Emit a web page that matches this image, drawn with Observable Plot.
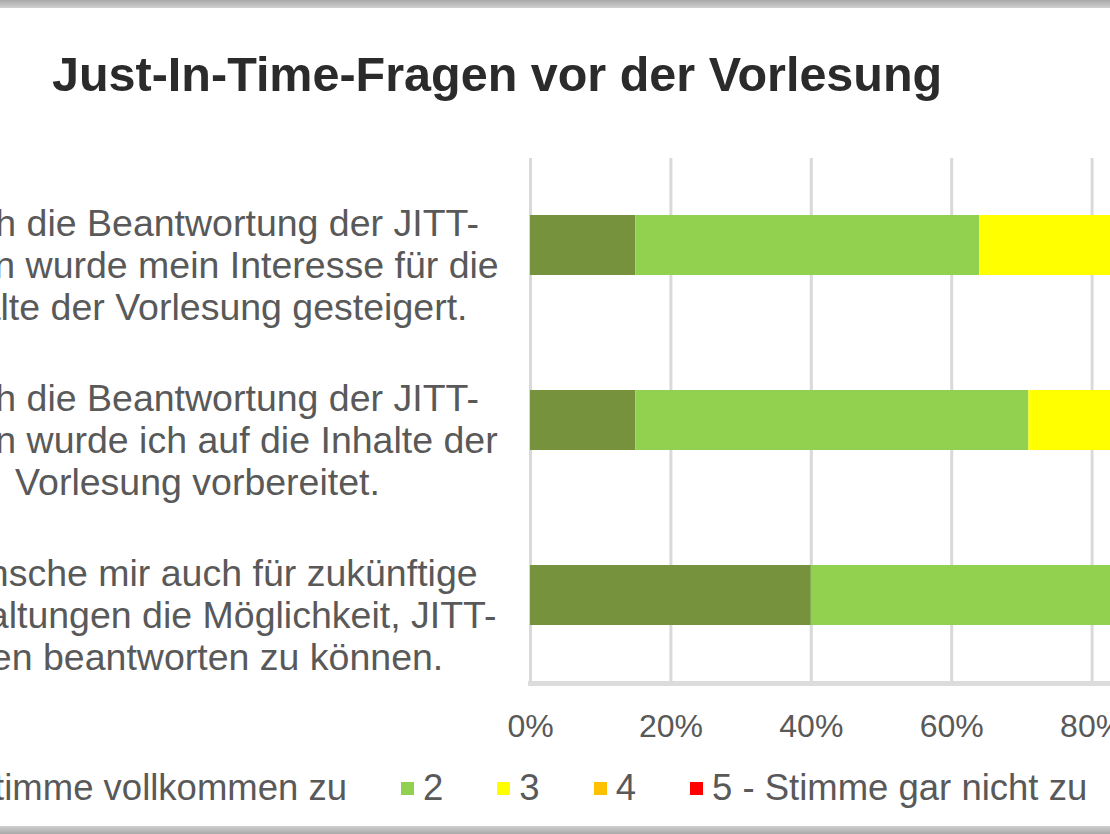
<!DOCTYPE html>
<html>
<head>
<meta charset="utf-8">
<script src="https://cdn.jsdelivr.net/npm/d3@7"></script>
<script src="https://cdn.jsdelivr.net/npm/@observablehq/plot@0.6"></script>
<style>
  html, body { margin: 0; padding: 0; background: #fff; }
  #frame { position: relative; width: 1110px; height: 834px; overflow: hidden; background: #fff; font-family: "Liberation Sans", Arial, sans-serif; }
  .band { position: absolute; left: 0; width: 1110px; height: 8px; }
  #topband { top: 0; background: linear-gradient(#a9a9a9, #d0d0d0); }
  #bottomband { bottom: 0; background: linear-gradient(#d0d0d0, #a9a9a9); }
  #title { position: absolute; left: 52px; top: 50px; font-size: 48.5px; line-height: 1; font-weight: bold; color: #2b2b2b; white-space: nowrap; }
  #chart { position: absolute; left: -400px; top: 147px; width: 1652px; }
  #chart svg { max-width: none !important; }
  #legend { position: absolute; left: -105px; top: 770px; height: 36px; display: flex; align-items: center; gap: 54px; font-size: 36.5px; line-height: 1; color: #595959; white-space: nowrap; }
  .item { display: flex; align-items: center; gap: 9px; }
  .sw { width: 13px; height: 13px; flex: none; }
</style>
</head>
<body>
<div id="frame">
  <div id="topband" class="band"></div>
  <div id="title">Just-In-Time-Fragen vor der Vorlesung</div>
  <div id="chart"></div>
  <div id="legend"></div>
  <div id="bottomband" class="band"></div>
</div>
<script>
// Survey statements (categories)
const questions = [
  "Durch die Beantwortung der JITT-\nFragen wurde mein Interesse für die\nInhalte der Vorlesung gesteigert.",
  "Durch die Beantwortung der JITT-\nFragen wurde ich auf die Inhalte der\nVorlesung vorbereitet.",
  "Ich wünsche mir auch für zukünftige\nVeranstaltungen die Möglichkeit, JITT-\nFragen beantworten zu können."
];
// Answer levels (series)
const levels = ["1 - Stimme vollkommen zu", "2", "3", "4", "5 - Stimme gar nicht zu"];
const levelColors = ["#76923C", "#92D050", "#FFFF00", "#FFC000", "#FF0000"];
// Percentage shares per statement, in level order
const sharesInteresse = [15, 49, 28, 6, 2];
const sharesVorbereitet = [15, 56, 22, 5, 2];
const sharesZukunft = [40, 48, 10, 2, 0];
// Axis ticks
const xTicks = [0, 20, 40, 60, 80, 100];

const shares = [sharesInteresse, sharesVorbereitet, sharesZukunft];
const data = questions.flatMap((q, i) => levels.map((l, j) => ({question: q, level: l, value: shares[i][j]})));

const labelStyle = {y: d => d, text: d => d, frameAnchor: "left", dy: 19, textAnchor: "middle", lineHeight: 1.12, fontSize: 37.5, fill: "#595959"};

const chart = Plot.plot({
  width: 1652,
  height: 606,
  marginLeft: 930,
  marginRight: 20,
  marginTop: 11,
  marginBottom: 70,
  style: {fontFamily: "Liberation Sans, Arial, sans-serif", background: "transparent", overflow: "visible", maxWidth: "none"},
  x: {domain: [0, 100]},
  y: {domain: questions, paddingInner: 0.657, paddingOuter: 0.3285, axis: null},
  color: {domain: levels, range: levelColors},
  marks: [
    Plot.gridX(xTicks, {stroke: "#d9d9d9", strokeWidth: 3, strokeOpacity: 1}),
    Plot.frame({anchor: "bottom", stroke: "#dcdcdc", strokeWidth: 5}),
    Plot.barX(data, Plot.stackX({x: "value", y: "question", fill: "level", order: levels})),
    Plot.axisX(xTicks, {tickSize: 0, tickPadding: 31, tickFormat: d => d + "%", fontSize: 32, fill: "#595959", label: null}),
    Plot.text(questions.slice(0, 2), {...labelStyle, dx: -333}),
    Plot.text(questions.slice(2), {...labelStyle, dx: -352})
  ]
});
chart.style.maxWidth = "none";
document.getElementById("chart").appendChild(chart);

const legend = document.getElementById("legend");
levels.forEach((l, i) => {
  const item = document.createElement("div");
  item.className = "item";
  const sw = document.createElement("span");
  sw.className = "sw";
  sw.style.background = levelColors[i];
  const t = document.createElement("span");
  t.textContent = l;
  item.appendChild(sw);
  item.appendChild(t);
  legend.appendChild(item);
});
</script>
</body>
</html>
